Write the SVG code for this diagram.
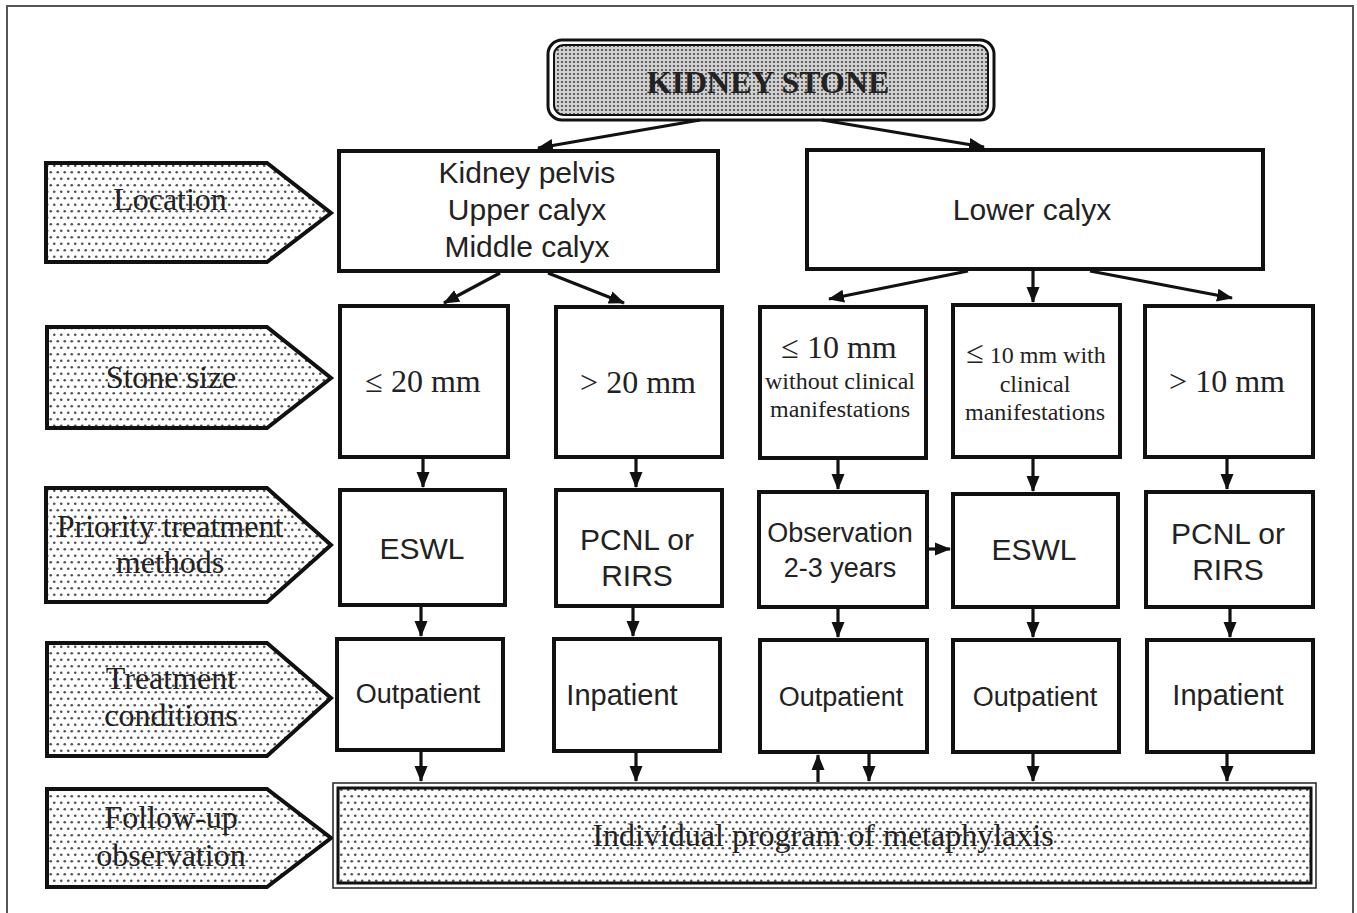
<svg xmlns="http://www.w3.org/2000/svg" width="1357" height="913" viewBox="0 0 1357 913">
<style>
.box{fill:#fff;stroke:#111;stroke-width:4}
.lab{fill:url(#dots);stroke:#111;stroke-width:4;stroke-linejoin:miter}
.serif{font-family:"Liberation Serif","Times New Roman",serif;fill:#222;text-anchor:middle}
.sans{font-family:"Liberation Sans",Arial,sans-serif;fill:#222;text-anchor:middle}
.conn{stroke:#111;stroke-width:3.2;fill:none;marker-end:url(#ah)}
</style>
<defs>
<pattern id="dots" width="7" height="13" patternUnits="userSpaceOnUse">
<rect width="7" height="13" fill="#fff"/>
<circle cx="1.75" cy="3.25" r="1.35" fill="#555"/>
<circle cx="5.25" cy="9.75" r="1.35" fill="#555"/>
</pattern>
<pattern id="dense" width="4" height="4" patternUnits="userSpaceOnUse">
<rect width="4" height="4" fill="#d0d0d0"/>
<circle cx="2" cy="2" r="1.1" fill="#444"/>
</pattern>
<marker id="ah" markerWidth="16" markerHeight="16" refX="15" refY="8" orient="auto" markerUnits="userSpaceOnUse">
<path d="M0,1.5 L16,8 L0,14.5 z" fill="#111"/>
</marker>
</defs>
<rect width="1357" height="913" fill="#fff"/>
<rect x="7" y="6" width="1346" height="912" fill="none" stroke="#555" stroke-width="2"/>

<g id="title">
<rect x="548" y="40" width="446" height="80" rx="14" fill="#fff" stroke="#111" stroke-width="3"/>
<rect x="554" y="45" width="434" height="70" rx="10" fill="url(#dense)" stroke="#111" stroke-width="2"/>
<text x="768" y="93" class="serif" font-size="32" font-weight="bold" fill="#111">KIDNEY STONE</text>
</g>

<g id="label-location">
<path class="lab" d="M46,163 L267,163 L331,213 L267,262 L46,262 Z"/>
<text x="170" y="210" class="serif" font-size="32">Location</text>
</g>
<g id="label-size">
<path class="lab" d="M47,327 L267,327 L331,378 L267,428 L47,428 Z"/>
<text x="171" y="388" class="serif" font-size="32">Stone size</text>
</g>
<g id="label-priority">
<path class="lab" d="M46,488 L267,488 L331,545 L267,602 L46,602 Z"/>
<text x="170" y="537" class="serif" font-size="32">Priority treatment</text>
<text x="170" y="573" class="serif" font-size="32">methods</text>
</g>
<g id="label-conditions">
<path class="lab" d="M47,643 L267,643 L331,698 L267,756 L47,756 Z"/>
<text x="171" y="689" class="serif" font-size="32">Treatment</text>
<text x="171" y="726" class="serif" font-size="32">conditions</text>
</g>
<g id="label-followup">
<path class="lab" d="M47,789 L267,789 L331,838 L267,887 L47,887 Z"/>
<text x="171" y="828" class="serif" font-size="32">Follow-up</text>
<text x="171" y="866" class="serif" font-size="32">observation</text>
</g>

<g id="loc-upper">
<rect class="box" x="339" y="151" width="379" height="120"/>
<text x="527" y="183" class="sans" font-size="30">Kidney pelvis</text>
<text x="527" y="220" class="sans" font-size="30">Upper calyx</text>
<text x="527" y="257" class="sans" font-size="30">Middle calyx</text>
</g>
<g id="loc-lower">
<rect class="box" x="807" y="150" width="456" height="119"/>
<text x="1032" y="220" class="sans" font-size="30">Lower calyx</text>
</g>

<g id="size-le20">
<rect class="box" x="340" y="306" width="168" height="151"/>
<text x="423" y="392" class="serif" font-size="32">≤ 20 mm</text>
</g>
<g id="size-gt20">
<rect class="box" x="556" y="307" width="166" height="150"/>
<text x="638" y="393" class="serif" font-size="32">&gt; 20 mm</text>
</g>
<g id="size-le10-without">
<rect class="box" x="760" y="307" width="166" height="151"/>
<text x="839" y="358" class="serif" font-size="32">≤ 10 mm</text>
<text x="840" y="389" class="serif" font-size="24">without clinical</text>
<text x="840" y="417" class="serif" font-size="24">manifestations</text>
</g>
<g id="size-le10-with">
<rect class="box" x="953" y="305" width="167" height="152"/>
<text x="1036" y="363" class="serif" font-size="24"><tspan font-size="32">≤</tspan> 10 mm with</text>
<text x="1035" y="392" class="serif" font-size="24">clinical</text>
<text x="1035" y="420" class="serif" font-size="24">manifestations</text>
</g>
<g id="size-gt10">
<rect class="box" x="1145" y="306" width="168" height="151"/>
<text x="1227" y="392" class="serif" font-size="32">&gt; 10 mm</text>
</g>

<g id="tx-eswl1">
<rect class="box" x="340" y="490" width="165" height="115"/>
<text x="422" y="559" class="sans" font-size="30">ESWL</text>
</g>
<g id="tx-pcnl1">
<rect class="box" x="556" y="490" width="166" height="116"/>
<text x="637" y="550" class="sans" font-size="30">PCNL or</text>
<text x="637" y="586" class="sans" font-size="30">RIRS</text>
</g>
<g id="tx-observation">
<rect class="box" x="759" y="492" width="168" height="115"/>
<text x="840" y="542" class="sans" font-size="27">Observation</text>
<text x="840" y="577" class="sans" font-size="27">2-3 years</text>
</g>
<g id="tx-eswl2">
<rect class="box" x="953" y="494" width="165" height="113"/>
<text x="1034" y="560" class="sans" font-size="30">ESWL</text>
</g>
<g id="tx-pcnl2">
<rect class="box" x="1146" y="492" width="167" height="115"/>
<text x="1228" y="544" class="sans" font-size="30">PCNL or</text>
<text x="1228" y="580" class="sans" font-size="30">RIRS</text>
</g>

<g id="cond-1">
<rect class="box" x="337" y="639" width="166" height="111"/>
<text x="418" y="703" class="sans" font-size="27">Outpatient</text>
</g>
<g id="cond-2">
<rect class="box" x="554" y="639" width="166" height="112"/>
<text x="622" y="705" class="sans" font-size="29">Inpatient</text>
</g>
<g id="cond-3">
<rect class="box" x="760" y="640" width="167" height="112"/>
<text x="841" y="706" class="sans" font-size="27">Outpatient</text>
</g>
<g id="cond-4">
<rect class="box" x="953" y="640" width="166" height="112"/>
<text x="1035" y="706" class="sans" font-size="27">Outpatient</text>
</g>
<g id="cond-5">
<rect class="box" x="1147" y="640" width="166" height="112"/>
<text x="1228" y="705" class="sans" font-size="29">Inpatient</text>
</g>

<g id="followup">
<rect x="333" y="783" width="983" height="105" fill="#fff" stroke="#222" stroke-width="1.5"/>
<rect x="338" y="788" width="973" height="95" fill="url(#dots)" stroke="#111" stroke-width="3"/>
<text x="823" y="846" class="serif" font-size="32">Individual program of metaphylaxis</text>
</g>

<g id="connectors">
<path class="conn" d="M700,120 L538,148"/>
<path class="conn" d="M822,120 L984,147"/>
<path class="conn" d="M500,273 L444,303"/>
<path class="conn" d="M548,273 L624,303"/>
<path class="conn" d="M968,271 L829,299"/>
<path class="conn" d="M1033,271 L1033,302"/>
<path class="conn" d="M1090,271 L1232,298"/>
<path class="conn" d="M423,459 L423,487"/>
<path class="conn" d="M636,459 L636,487"/>
<path class="conn" d="M838,460 L838,489"/>
<path class="conn" d="M1033,459 L1033,491"/>
<path class="conn" d="M1227,459 L1227,489"/>
<path class="conn" d="M929,549 L950,549"/>
<path class="conn" d="M421,607 L421,636"/>
<path class="conn" d="M633,608 L633,636"/>
<path class="conn" d="M838,609 L838,637"/>
<path class="conn" d="M1033,609 L1033,637"/>
<path class="conn" d="M1230,609 L1230,637"/>
<path class="conn" d="M421,752 L421,781"/>
<path class="conn" d="M636,753 L636,781"/>
<path class="conn" d="M869,754 L869,781"/>
<path class="conn" d="M1033,754 L1033,781"/>
<path class="conn" d="M1227,754 L1227,781"/>
<path class="conn" d="M818,782 L818,755" stroke-width="4.5"/>
</g>
</svg>
